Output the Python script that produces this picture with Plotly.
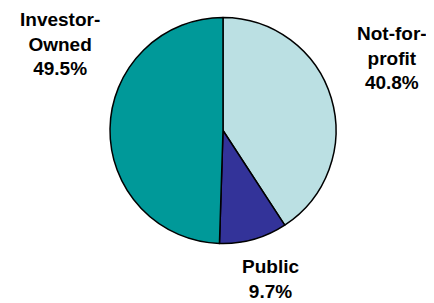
import plotly.graph_objects as go

labels = ["Not-for-profit", "Public", "Investor-Owned"]
values = [40.8, 9.7, 49.5]
colors = ["#BBE0E3", "#333399", "#009999"]
label_text = ["<b>Not-for-<br>profit<br>40.8%</b>", "<b>Public<br>9.7%</b>", "<b>Investor-<br>Owned<br>49.5%</b>"]

# page body has an 8px margin, so the figure is drawn 8px smaller and offset
OFF = 8
W, H = 434 - OFF, 303 - OFF
cx, cy, r = 223 - OFF, 130.5 - OFF, 113

fig = go.Figure(go.Pie(
    labels=labels, values=values, sort=False, direction="clockwise", rotation=0,
    marker=dict(colors=colors, line=dict(color="black", width=1.5)),
    textinfo="none", hoverinfo="label+percent",
    domain=dict(x=[(cx - r) / W, (cx + r) / W], y=[1 - (cy + r) / H, 1 - (cy - r) / H]),
    showlegend=False,
))

pos = [(392, 58.5), (270, 279), (59.5, 43.5)]
for t, (x, y) in zip(label_text, pos):
    fig.add_annotation(x=(x - OFF) / W, y=1 - (y - OFF) / H, xref="paper", yref="paper", text=t,
                       showarrow=False, xanchor="center", yanchor="middle", borderpad=0,
                       font=dict(family="Liberation Sans, Arial, sans-serif", size=19, color="black"))

fig.update_layout(width=W, height=H, margin=dict(l=0, r=0, t=0, b=0),
                  paper_bgcolor="white", plot_bgcolor="white")
fig.write_html("out.html")
